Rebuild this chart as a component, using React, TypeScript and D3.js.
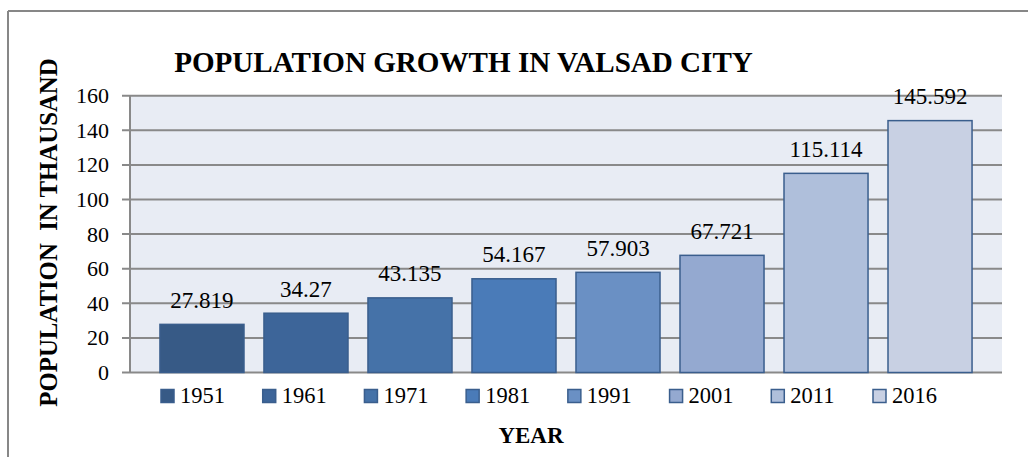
import React from "react";
import * as d3 from "d3";

const years = ["1951", "1961", "1971", "1981", "1991", "2001", "2011", "2016"];
const population = [27.819, 34.27, 43.135, 54.167, 57.903, 67.721, 115.114, 145.592];
const valueLabels = ["27.819", "34.27", "43.135", "54.167", "57.903", "67.721", "115.114", "145.592"];
const yTicks = [0, 20, 40, 60, 80, 100, 120, 140, 160];
const barColors = ["#375A86", "#3D6599", "#4572A8", "#4A7BB8", "#6A90C4", "#94A9D0", "#AFBFDB", "#C8D0E3"];

const W = 1028;
const H = 457;
const FONT = "'Liberation Serif', 'Times New Roman', serif";

export default function App() {
  const plotL = 130, plotR = 1002, plotT = 95.7, plotB = 372.5;
  const x = d3.scaleBand<string>().domain(years).range([plotL, plotR]).paddingInner(0.192).paddingOuter(0.288);
  const y = d3.scaleLinear().domain([0, 160]).range([plotB, plotT]);
  const legendX = d3.scaleLinear().domain([0, years.length - 1]).range([161, 873]);

  return (
    <svg width={W} height={H} style={{ position: "absolute", left: 0, top: 0, background: "#fff" }}>
      <line x1={8} y1={11} x2={W} y2={11} stroke="#878787" strokeWidth={2} />
      <line x1={8} y1={11} x2={8} y2={H} stroke="#878787" strokeWidth={2} />

      <text x={463.5} y={72} textAnchor="middle" fontFamily={FONT} fontSize={29.1} fontWeight="bold" fill="#000">
        POPULATION GROWTH IN VALSAD CITY
      </text>

      <rect x={plotL} y={plotT} width={plotR - plotL} height={plotB - plotT} fill="#E8ECF4" />

      {yTicks.map((t) => (
        <g key={t}>
          <line x1={122} x2={plotR} y1={y(t)} y2={y(t)} stroke="#898989" strokeWidth={2} />
          <text x={109} y={y(t) + 7.5} textAnchor="end" fontFamily={FONT} fontSize={22} fill="#000">{t}</text>
        </g>
      ))}
      <line x1={plotL} x2={plotL} y1={plotT} y2={plotB} stroke="#898989" strokeWidth={2} />

      {years.map((yr, i) => (
        <g key={yr}>
          <rect
            x={x(yr)!}
            y={y(population[i])}
            width={x.bandwidth()}
            height={plotB - y(population[i])}
            fill={barColors[i]}
            stroke="#3A5E8D"
            strokeWidth={1.5}
          />
          <text x={x(yr)! + x.bandwidth() / 2} y={y(population[i]) - 16.5} textAnchor="middle" fontFamily={FONT} fontSize={23} fill="#000">
            {valueLabels[i]}
          </text>
        </g>
      ))}

      {years.map((yr, i) => (
        <g key={"lg" + yr}>
          <rect x={legendX(i)} y={389.5} width={13} height={13} fill={barColors[i]} stroke="#3A5E8D" strokeWidth={1.5} />
          <text x={legendX(i) + 19} y={403} fontFamily={FONT} fontSize={22.5} fill="#000">{yr}</text>
        </g>
      ))}

      <text x={531} y={443} textAnchor="middle" fontFamily={FONT} fontSize={23} fontWeight="bold" fill="#000">YEAR</text>

      <text
        transform={`translate(57, 232.5) rotate(-90)`}
        textAnchor="middle"
        fontFamily={FONT}
        fontSize={24.8}
        fontWeight="bold"
        fill="#000"
        style={{ whiteSpace: "pre" }}
      >
        {"POPULATION  IN THAUSAND"}
      </text>
    </svg>
  );
}
